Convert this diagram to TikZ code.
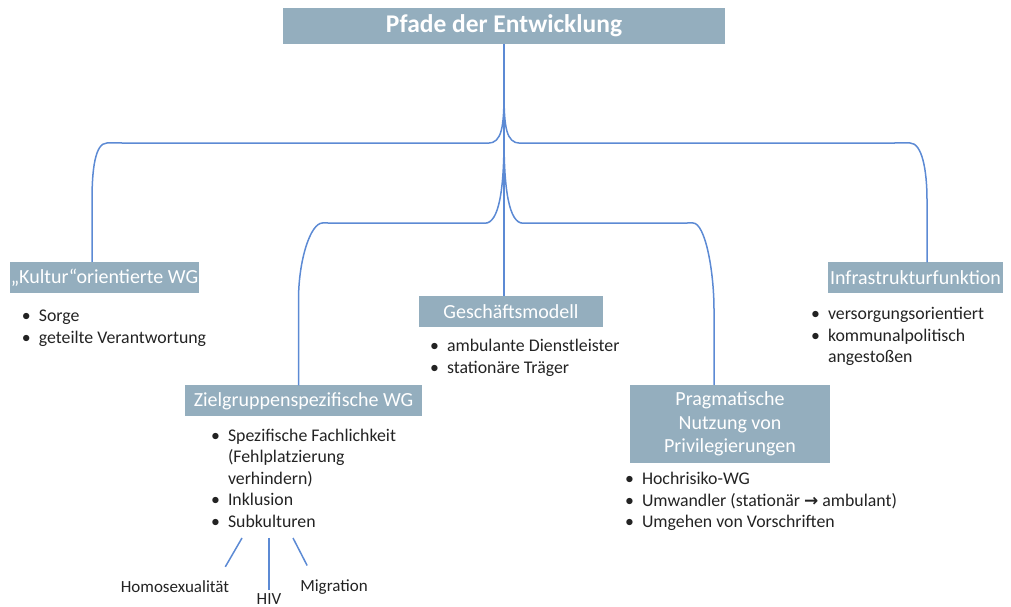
\documentclass[tikz,border=0pt]{standalone}
\usepackage{fontspec}
\setmainfont{Carlito}
\usetikzlibrary{positioning, calc}
\definecolor{boxfill}{RGB}{148,174,190}
\definecolor{linkblue}{RGB}{92,138,212}
\definecolor{itemtext}{RGB}{35,35,35}
\tikzstyle{box}=[fill=boxfill, text=white, inner sep=2pt, minimum height=31pt, font=\fontsize{20}{23.5}\selectfont]
\tikzstyle{list}=[text=itemtext, align=left, inner sep=0pt, font=\fontsize{17.8}{21.5}\selectfont]
\tikzstyle{sub}=[text=itemtext, inner sep=0pt, font=\fontsize{17}{19}\selectfont]
\tikzstyle{link}=[draw=linkblue, line width=1.5pt]
\newcommand{\bul}{\makebox[17pt][l]{\textbullet}}
\newcommand{\cont}{\hspace*{17pt}}

\begin{document}
\begin{tikzpicture}[x=1pt, y=1pt]
    \useasboundingbox (0,0) rectangle (1011,607);
    % boxes
    \node[box, minimum width=442pt, minimum height=36pt, font=\fontsize{25.5}{28}\selectfont\bfseries] (title) at (504,581) {Pfade der Entwicklung};
    \node[box, minimum width=185pt, inner sep=1pt] (kul) at (104.5,329.5) {„Kultur“orientierte WG};
    \node[box, minimum width=237pt] (ziel) at (303.5,206) {Zielgruppenspezifische WG};
    \node[box, minimum width=184pt] (gesch) at (511,295.5) {Geschäftsmodell};
    \node[box, minimum width=200pt, minimum height=78pt, align=center] (prag) at (730,183) {Pragmatische\\Nutzung von\\Privilegierungen};
    \node[box, minimum width=175pt] (infra) at (915.5,329) {Infrastrukturfunktion};
    % lists (base = last line)
    \node[list, anchor=base west] (kullist) at ($(kul.south west)+(12,-50)$)
        {\bul Sorge\\ \bul geteilte Verantwortung};
    \node[list, anchor=base west] (ziellist) at ($(ziel.south west)+(26,-110.5)$)
        {\bul Spezifische Fachlichkeit\\ \cont (Fehlplatzierung\\ \cont verhindern)\\ \bul Inklusion\\ \bul Subkulturen};
    \node[list, anchor=base west] (geschlist) at ($(gesch.south west)+(11,-46)$)
        {\bul ambulante Dienstleister\\ \bul stationäre Träger};
    \node[list, anchor=base west] (praglist) at ($(prag.south west)+(-5,-64.5)$)
        {\bul Hochrisiko-WG\\ \bul Umwandler (stationär {\fontspec{DejaVu Sans}\fontsize{17}{19}\selectfont\bfseries →} ambulant)\\ \bul Umgehen von Vorschriften};
    \node[list, anchor=base west] (infralist) at ($(infra.south west)+(-17,-69)$)
        {\bul versorgungsorientiert\\ \bul kommunalpolitisch\\ \cont angestoßen};
    % subcultures
    \node[sub] (homo) at (175,20) {Homosexualität};
    \node[sub] (hiv) at (269,8) {HIV};
    \node[sub] (migr) at (334,20) {Migration};
    % connectors
    \coordinate (outer) at (0,464);
    \coordinate (inner) at (0,384);
    \coordinate (kl) at ([xshift=-12.5pt]kul.north);
    \coordinate (zl) at ([xshift=-5pt]ziel.north);
    \coordinate (pr) at ([xshift=-16pt]prag.north);
    \coordinate (ir) at ([xshift=11.5pt]infra.north);
    \draw[link] (title.south) -- ++(0,-48) to[out=-90, in=0, out distance=34pt, in distance=14pt] ++(-16,-51)
        -- ($(kl |- outer)+(15,0)$) to[out=180, in=90, out distance=12pt, in distance=30pt] ($(kl |- outer)+(0,-57)$) -- (kl);
    \draw[link] (title.south) -- ++(0,-48) to[out=-90, in=180, out distance=34pt, in distance=14pt] ++(16,-51)
        -- ($(ir |- outer)+(-17,0)$) to[out=0, in=90, out distance=12pt, in distance=30pt] ($(ir |- outer)+(0,-57)$) -- (ir);
    \draw[link] (title.south) -- ++(0,-95) to[out=-90, in=0, out distance=50pt, in distance=14pt] ++(-19,-84)
        -- ($(zl |- inner)+(24,0)$) to[out=180, in=90, out distance=12pt, in distance=40pt] ($(zl |- inner)+(0,-77)$) -- (zl);
    \draw[link] (title.south) -- ++(0,-95) to[out=-90, in=180, out distance=50pt, in distance=14pt] ++(19,-84)
        -- ($(pr |- inner)+(-21,0)$) to[out=0, in=90, out distance=12pt, in distance=40pt] ($(pr |- inner)+(0,-87)$) -- (pr);
    \draw[link] (title.south) -- (title.south |- gesch.north);
    \coordinate (s1) at (242,69);
    \coordinate (s2) at (269,69);
    \coordinate (s3) at (293,69);
    \draw[link] (s1) -- ([shift={(-4,14)}]homo.north east);
    \draw[link] (s2) -- ([yshift=3pt]hiv.north);
    \draw[link] (s3) -- ([shift={(7,14)}]migr.north west);
\end{tikzpicture}
\end{document}
